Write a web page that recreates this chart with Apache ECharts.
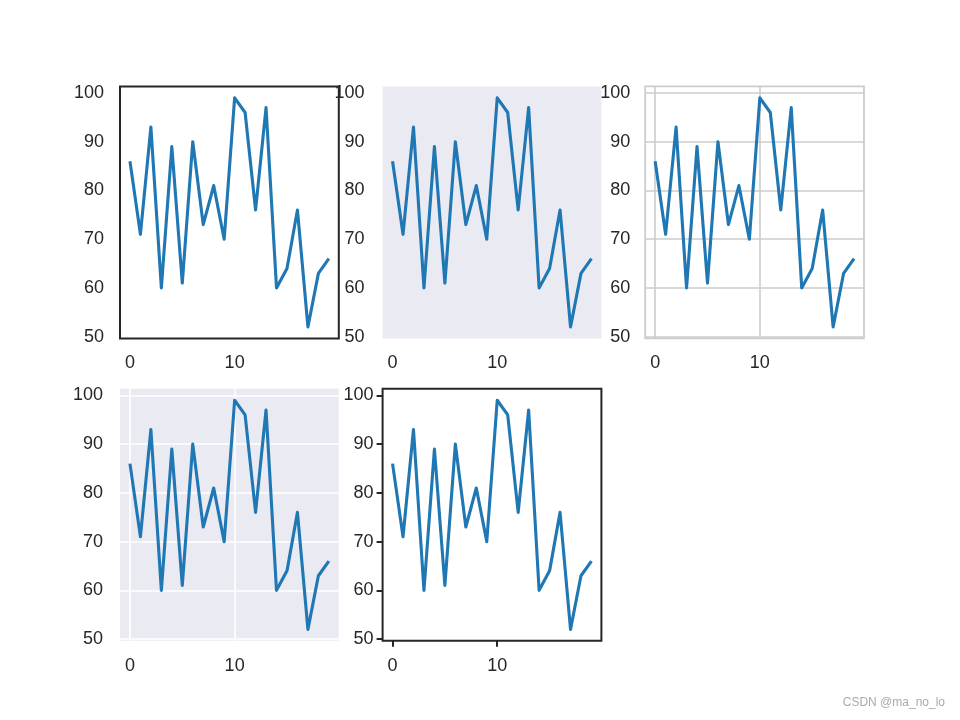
<!DOCTYPE html>
<html><head><meta charset="utf-8">
<script src="https://cdn.jsdelivr.net/npm/echarts@6/dist/echarts.min.js"></script>
<style>html,body{margin:0;padding:0;background:#fff}#c{width:960px;height:720px}</style>
</head><body><div id="c"></div>
<script>
const xValues = [0,1,2,3,4,5,6,7,8,9,10,11,12,13,14,15,16,17,18,19];
const yValues = [86,71,93,60,89,61,90,73,81,70,99,96,76,97,60,64,76,52,63,66];
const xTicks = [0,10];
const yTicks = [50,60,70,80,90,100];
const xRange = [-0.95, 19.95];
const yRange = [49.65, 101.35];

const panels = [
  {left:120,   top:86.4,  bg:'transparent', border:'#262626', bw:2,   grid:null,      ticks:false, yMargin:16},
  {left:382.6, top:86.4,  bg:'#EAEAF2',     border:null,      bw:0,   grid:null,      ticks:false, yMargin:18},
  {left:645.2, top:86.4,  bg:'transparent', border:'#cccccc', bw:1.8, grid:'#cccccc', ticks:false, yMargin:15},
  {left:120,   top:388.8, bg:'#EAEAF2',     border:null,      bw:0,   grid:'#ffffff', ticks:false, yMargin:17},
  {left:382.6, top:388.8, bg:'transparent', border:'#262626', bw:2,   grid:null,      ticks:true,  yMargin:9}
];

const font = {color:'#262626', fontSize:18, fontFamily:'Liberation Sans, Arial, sans-serif'};
const points = xValues.map((x,i)=>[x, yValues[i]]);

const grids=[], xAxes=[], yAxes=[], series=[];
panels.forEach((p,i)=>{
  grids.push({left:p.left, top:p.top, width:218.8, height:252, show:true,
    backgroundColor:p.bg, borderColor:p.border||'transparent', borderWidth:p.bw,
    containLabel:false, outerBoundsMode:'none'});
  xAxes.push({gridIndex:i, type:'value', position:'bottom', min:xRange[0], max:xRange[1],
    axisLine:{show:false, onZero:false},
    axisTick:{show:p.ticks, customValues:xTicks, length:6, inside:false, lineStyle:{color:'#262626', width:2}},
    axisLabel:Object.assign({customValues:xTicks, margin:p.ticks?16:16}, font),
    splitLine:{show:!!p.grid, lineStyle:{color:p.grid||'#fff', width:1.6}}});
  yAxes.push({gridIndex:i, type:'value', position:'left', min:yRange[0], max:yRange[1],
    axisLine:{show:false, onZero:false},
    axisTick:{show:p.ticks, customValues:yTicks, length:6, inside:false, lineStyle:{color:'#262626', width:2}},
    axisLabel:Object.assign({customValues:yTicks, margin:p.yMargin}, font),
    splitLine:{show:!!p.grid, lineStyle:{color:p.grid||'#fff', width:1.6}}});
  series.push({type:'line', xAxisIndex:i, yAxisIndex:i, data:points, showSymbol:false,
    symbol:'none', animation:false, lineStyle:{color:'#1f77b4', width:3.1, join:'round'}});
});

const chart = echarts.init(document.getElementById('c'), null, {renderer:'canvas'});
chart.setOption({
  animation:false,
  backgroundColor:'#ffffff',
  grid:grids, xAxis:xAxes, yAxis:yAxes, series:series,
  graphic:[{type:'text', right:15, top:697, style:{text:'CSDN @ma_no_lo', fill:'#aaaaaa', fontSize:12, fontFamily:'Liberation Sans, Arial, sans-serif'}}]
});
</script></body></html>
